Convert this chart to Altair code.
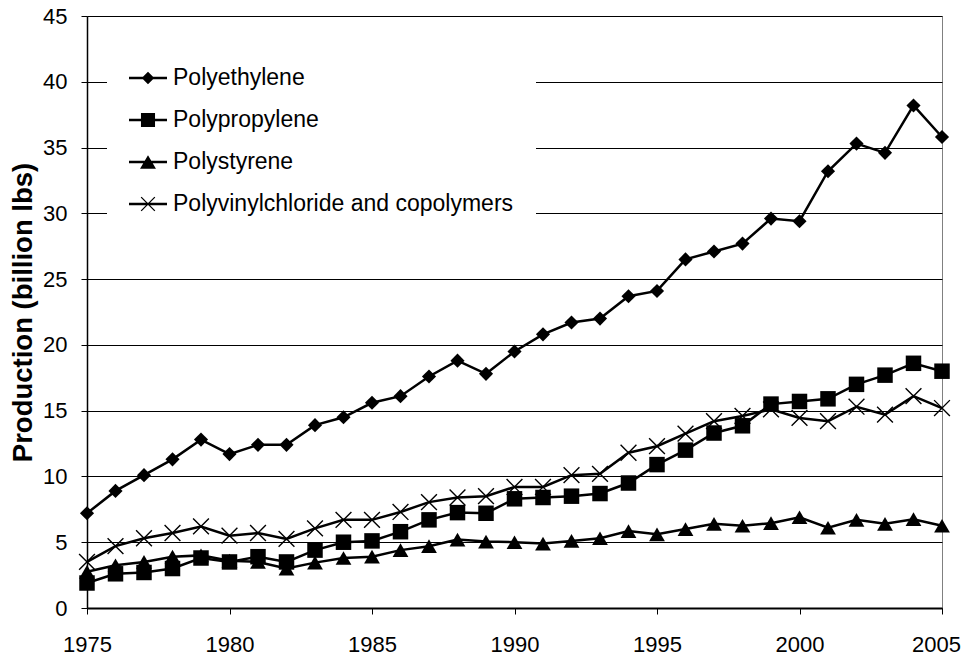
import altair as alt
import pandas as pd

years = [1975, 1976, 1977, 1978, 1979, 1980, 1981, 1982, 1983, 1984, 1985,
         1986, 1987, 1988, 1989, 1990, 1991, 1992, 1993, 1994, 1995,
         1996, 1997, 1998, 1999, 2000, 2001, 2002, 2003, 2004, 2005]

polyethylene = [7.2, 8.9, 10.1, 11.3, 12.8, 11.7, 12.4, 12.4, 13.9, 14.5, 15.6,
                16.1, 17.6, 18.8, 17.8, 19.5, 20.8, 21.7, 22.0, 23.7, 24.1,
                26.5, 27.1, 27.7, 29.6, 29.4, 33.2, 35.3, 34.6, 38.2, 35.8]
polypropylene = [1.9, 2.6, 2.7, 3.0, 3.8, 3.5, 3.9, 3.5, 4.4, 5.0, 5.1,
                 5.8, 6.7, 7.25, 7.2, 8.3, 8.4, 8.5, 8.7, 9.5, 10.9,
                 12.0, 13.3, 13.85, 15.5, 15.7, 15.9, 17.0, 17.7, 18.6, 18.0]
polystyrene = [2.75, 3.25, 3.5, 3.9, 4.0, 3.6, 3.5, 3.0, 3.45, 3.8, 3.9,
               4.4, 4.7, 5.2, 5.05, 5.0, 4.9, 5.1, 5.3, 5.85, 5.6,
               6.0, 6.4, 6.25, 6.45, 6.9, 6.1, 6.7, 6.4, 6.75, 6.25]
pvc = [3.5, 4.7, 5.3, 5.7, 6.2, 5.5, 5.7, 5.25, 6.05, 6.7, 6.7,
       7.3, 8.05, 8.4, 8.5, 9.2, 9.2, 10.1, 10.2, 11.8, 12.3,
       13.25, 14.2, 14.6, 15.1, 14.45, 14.2, 15.3, 14.7, 16.1, 15.2]

series_names = ["Polyethylene", "Polypropylene", "Polystyrene",
                "Polyvinylchloride and copolymers"]
series_values = [polyethylene, polypropylene, polystyrene, pvc]

y_ticks = [0, 5, 10, 15, 20, 25, 30, 35, 40, 45]
x_ticks = [1975, 1980, 1985, 1990, 1995, 2000, 2005]

X_PATH = "M-1,-1L1,1M-1,1L1,-1"
point_shapes = ["diamond", "square", "triangle-up", X_PATH]
point_sizes = [200, 240, 250, 250]

# legend symbols: a filled horizontal bar (the line) plus the marker, all as filled polygons
LINE_BAR = "M-1,-0.06H1V0.06H-1Z"
legend_paths = [
    LINE_BAR + "M-0.33,0L0,-0.33L0.33,0L0,0.33Z",
    LINE_BAR + "M-0.37,-0.37H0.37V0.37H-0.37Z",
    LINE_BAR + "M0,-0.35L0.42,0.35H-0.42Z",
    LINE_BAR + "M-0.336,-0.384L0.384,0.336L0.336,0.384L-0.384,-0.336Z"
             + "M-0.384,0.336L0.336,-0.384L0.384,-0.336L-0.336,0.384Z",
]

FONT = "Liberation Sans"

rows = []
for name, vals in zip(series_names, series_values):
    for yr, v in zip(years, vals):
        rows.append({"year": yr, "value": v, "series": name})
df = pd.DataFrame(rows)

xscale = alt.Scale(domain=[1975, 2005], nice=False, zero=False)
yscale = alt.Scale(domain=[0, 45], nice=False)

x_enc = alt.X("year:Q", scale=xscale,
              axis=alt.Axis(values=x_ticks, format="d", title=None, grid=False,
                            labelFont=FONT, labelFontSize=22, labelColor="black",
                            labelPadding=20, tickSize=6, tickColor="black",
                            domainColor="black", domainWidth=2,
                            labelOffset=alt.condition("datum.value == 2005",
                                                      alt.value(-6), alt.value(0)),
                            labelFlush=False))
y_enc = alt.Y("value:Q", scale=yscale,
              axis=alt.Axis(values=y_ticks, title="Production (billion lbs)",
                            grid=True, gridColor="black", gridWidth=1,
                            labelFont=FONT, labelFontSize=22, labelColor="black",
                            labelPadding=14, tickSize=6, tickColor="black",
                            domainColor="black", domainWidth=1.5,
                            titleFont=FONT, titleFontSize=27.5, titleFontWeight="bold",
                            titleColor="black", titleX=-50, labelFlush=False))

layers = []
base = alt.Chart(df)
for i, name in enumerate(series_names):
    sub = base.transform_filter(alt.datum.series == name)
    line = sub.mark_line(color="black", strokeWidth=2.5).encode(x=x_enc, y=y_enc)
    if i == 3:
        pts = sub.mark_point(shape=point_shapes[i], size=point_sizes[i], filled=False,
                             color="black", strokeWidth=1.4, opacity=1).encode(x=x_enc, y=y_enc)
    else:
        pts = sub.mark_point(shape=point_shapes[i], size=point_sizes[i], filled=True,
                             color="black", opacity=1).encode(x=x_enc, y=y_enc)
    layers.append(line)
    layers.append(pts)

legend_df = pd.DataFrame({"series": series_names, "year": [1990] * 4, "value": [20] * 4})
legend_layer = alt.Chart(legend_df).mark_point(
    filled=True, fill="black", opacity=0
).encode(
    x=alt.X("year:Q", scale=xscale),
    y=alt.Y("value:Q", scale=yscale),
    shape=alt.Shape("series:N",
                    scale=alt.Scale(domain=series_names, range=legend_paths),
                    legend=alt.Legend(title=None, orient="none", legendX=20, legendY=21,
                                      padding=21, fillColor="white", strokeColor="white",
                                      labelFont=FONT, labelFontSize=23, labelColor="black",
                                      labelOffset=5, symbolSize=1444,
                                      symbolFillColor="black", symbolOpacity=1,
                                      rowPadding=10, labelLimit=500)),
)
layers.append(legend_layer)

chart = alt.layer(*layers).properties(
    width=855, height=592,
    padding={"left": 79, "top": 8, "right": 19, "bottom": 50},
    autosize=alt.AutoSizeParams(type="none"),
    background="white",
).configure_view(stroke="#808080", strokeWidth=1)

chart.save("out.html", embed_options={"renderer": "svg", "actions": False})
